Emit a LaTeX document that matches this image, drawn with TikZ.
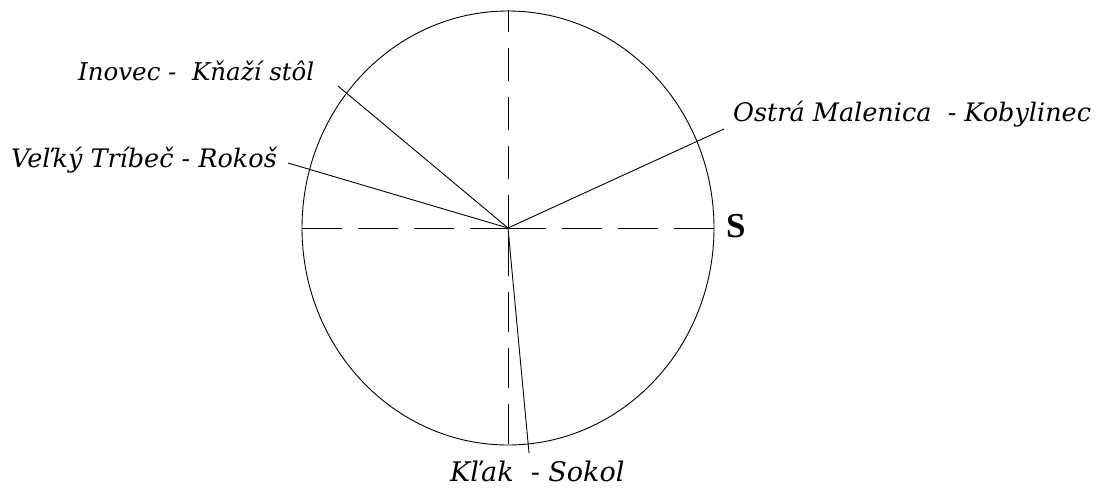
\documentclass[tikz,border=0pt]{standalone}
\usepackage{fontspec}
\setmainfont{DejaVu Serif}
\newfontfamily\timesbold[BoldFont={Liberation Serif Bold}]{Liberation Serif}
\usetikzlibrary{positioning}

\begin{document}
\begin{tikzpicture}[
    x=1pt, y=-1pt,
    axis/.style={line width=0.9pt, dash pattern=on 40pt off 16pt},
    sight/.style={line width=0.9pt},
    peak/.style={font=\itshape\fontsize{25.5}{30}\selectfont, inner sep=0pt, anchor=base west}
]
\useasboundingbox (0,0) rectangle (1095,491);
\coordinate (c) at (508,228);
% horizon circle
\draw[sight] (c) ellipse [x radius=206, y radius=217];
% axes
\coordinate (top) at (508,10);
\coordinate (bot) at (508,444);
\coordinate (west) at (302,228);
\coordinate (east) at (714,228);
\draw[axis, dash pattern=on 33pt off 16pt] (c) -- (top);
\draw[axis] (bot) -- (c);
\draw[axis] (west) -- (c);
\draw[axis] (east) -- (c);
% sight lines
\coordinate (ino) at (338,86);
\coordinate (tri) at (288,163);
\coordinate (ost) at (724,129);
\coordinate (klak) at (529,453);
\draw[sight] (c) -- (ino);
\draw[sight] (c) -- (tri);
\draw[sight] (c) -- (ost);
\draw[sight] (c) -- (klak);
% labels
\node[peak, font=\itshape\fontsize{24.5}{30}\selectfont] (inoL) at (78,80) {Inovec -\ \ Kňaží stôl};
\node[peak] (triL) at (11,167) {Veľký Tríbeč - Rokoš};
\node[peak] (ostL) at (733,121) {Ostrá Malenica\ \ - Kobylinec};
\node[peak, font=\itshape\fontsize{27}{30}\selectfont] (klakL) at (450,481) {Kľak\ \ -\ Sokol};
\node[anchor=base west, inner sep=0pt, font=\timesbold\bfseries\fontsize{35}{40}\selectfont] (s) at (726,237) {S};
\end{tikzpicture}
\end{document}
